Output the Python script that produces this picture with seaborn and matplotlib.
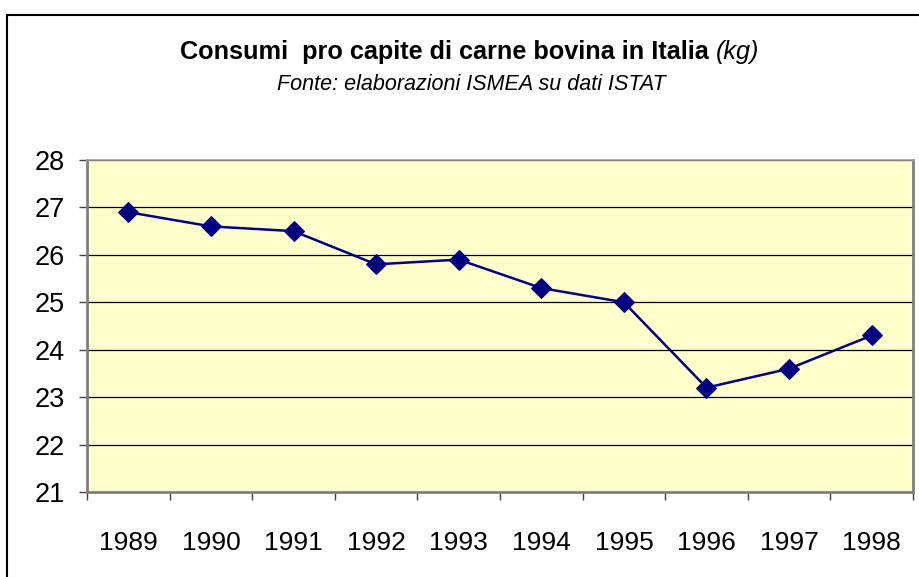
import matplotlib
matplotlib.use("Agg")
import matplotlib.pyplot as plt
import seaborn as sns
import pandas as pd
from matplotlib.patches import Rectangle

years = ["1989", "1990", "1991", "1992", "1993", "1994", "1995", "1996", "1997", "1998"]
consumi = [26.9, 26.6, 26.5, 25.8, 25.9, 25.3, 25.0, 23.2, 23.6, 24.3]
y_ticks = [21, 22, 23, 24, 25, 26, 27, 28]

sns.set_theme(style="white")
plt.rcParams['font.family'] = ['Liberation Sans', 'DejaVu Sans']
plt.rcParams['text.color'] = 'black'
plt.rcParams['xtick.labelcolor'] = 'black'
plt.rcParams['ytick.labelcolor'] = 'black'

df = pd.DataFrame({"anno": years, "kg": consumi})
df["pos"] = list(range(len(years)))

fig = plt.figure(figsize=(9.2, 5.77), dpi=100)
ax = fig.add_axes([87/920, 1-492/577, (913-87)/920, (492-160)/577])
ax.set_facecolor("#FFFFCC")

sns.lineplot(data=df, x="pos", y="kg", ax=ax, color="#000080", linewidth=1.8,
             marker="D", markersize=10, markeredgecolor="#000080", zorder=5)

n = len(years)
ax.set_xlim(-0.5, n - 0.5)
ax.set_ylim(21, 28)
ax.set_yticks(y_ticks)
ax.set_yticklabels([str(v) for v in y_ticks], fontsize=19.5)
ax.yaxis.grid(True, color="black", linewidth=0.9)
ax.xaxis.grid(False)
ax.set_axisbelow(True)

ax.set_xticks([p - 0.5 for p in range(n + 1)])
ax.set_xticklabels([])
ax.set_xticks(list(range(n)), minor=True)
ax.set_xticklabels(years, minor=True, fontsize=19)
ax.tick_params(axis="x", which="major", direction="out", length=6, width=1, color="#404040", bottom=True)
ax.tick_params(axis="x", which="minor", length=0, pad=28)
ax.tick_params(axis="y", direction="out", length=6, width=1, color="#404040", left=True, pad=10)
ax.set_xlabel("")
ax.set_ylabel("")

for side in ["left", "bottom", "right"]:
    ax.spines[side].set_color("#808080")
    ax.spines[side].set_linewidth(2)
ax.spines["top"].set_color("#A0A0A0")
ax.spines["top"].set_linewidth(1.2)

title_y = 1 - 52/577
tb = fig.text(0, title_y, "Consumi  pro capite di carne bovina in Italia ", fontsize=18.2,
              fontweight="bold", ha="left", va="center")
ti = fig.text(0, title_y, "(kg)", fontsize=18.2, fontstyle="italic", ha="left", va="center")
fig.canvas.draw()
r = fig.canvas.get_renderer()
wb = tb.get_window_extent(r).width
wi = ti.get_window_extent(r).width
start = 470 - (wb + wi) / 2
tb.set_x(start / 920)
ti.set_x((start + wb) / 920)

fig.text(471/920, 1-84/577, "Fonte: elaborazioni ISMEA su dati ISTAT", fontsize=15.5,
         fontstyle="italic", ha="center", va="center")

fig.patches.append(Rectangle((7/920, -0.1), 1.0, 1-15/577 + 0.1, transform=fig.transFigure,
                             fill=False, edgecolor="black", linewidth=1.5))

fig.savefig("out.png", dpi=100)
